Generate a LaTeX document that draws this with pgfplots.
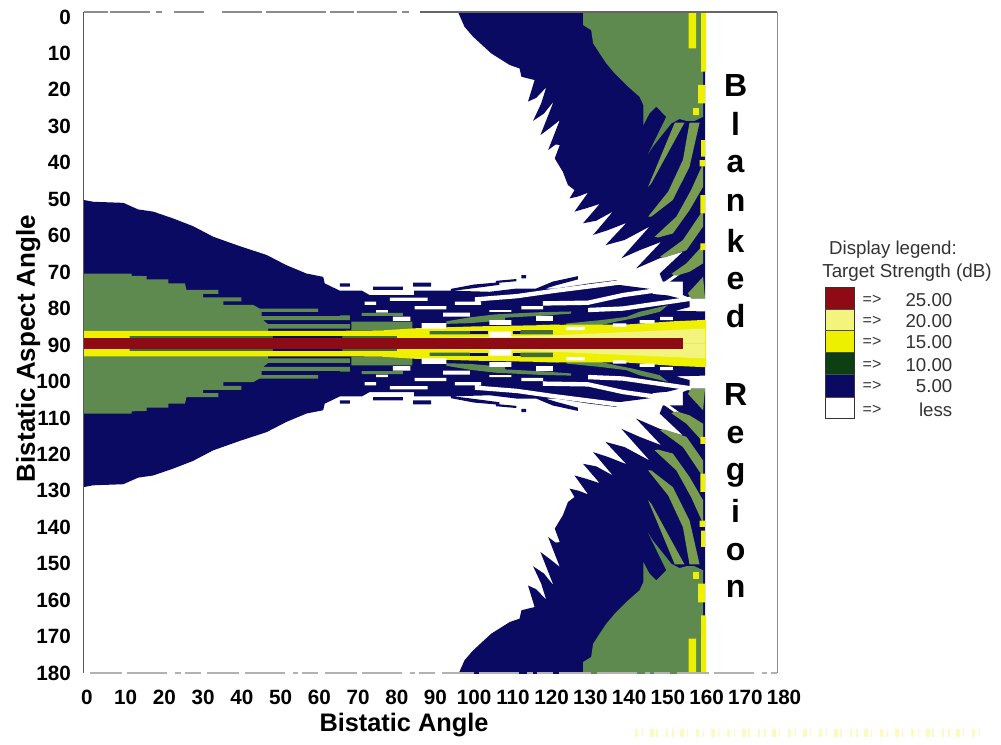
\documentclass[border=0pt]{standalone}
\usepackage{pgfplots}
\usepackage{pgfplotstable}
\usepackage{fontspec}
\setmainfont{Liberation Sans}
\pgfplotsset{compat=1.18}
\definecolor{navyc}{HTML}{0A0A62}
\definecolor{greena}{HTML}{5E8A50}
\definecolor{greenb}{HTML}{7A9C50}
\definecolor{darkg}{HTML}{3F6E3A}
\definecolor{legg}{HTML}{0C3F12}
\definecolor{yel}{HTML}{EEF000}
\definecolor{pale}{HTML}{F2F47E}
\definecolor{redc}{HTML}{8E0A14}

% upper half (aspect < 90) of each level; the lower half is its mirror image
\pgfplotstableread{
x y
-0.9 50.2
1.6 50.7
9.4 51
13.2 52.8
17.1 53.4
22.3 55.3
27.4 57.4
32.6 60.3
39.5 62.9
46.4 65.3
51.5 68.1
56.7 70.4
61 71.3
61.4 73.1
65.3 75.1
71 75.1
73 76.3
84.5 76.3
84.5 75.1
94 75.1
104 75.4
111 74.5
121.2 74.5
129.8 73.1
136.7 72.2
137.3 73.5
146.1 74.7
146.1 76
150 76.4
155.6 77.9
155.6 79.6
152 80.6
159.6 80.8
159.6 89.6
-0.9 89.6
nan nan
65.3 73.1
67.9 73.1
67.9 74
65.3 74
nan nan
73.9 74
81.6 74
81.6 74.9
73.9 74.9
nan nan
84.2 72.9
88.9 72.9
88.9 74
84.2 74
nan nan
94 74.6
100 73.4
106.5 72.8
106.5 73.5
100 74.4
94 75.2
nan nan
105.6 72.4
110.9 71.9
110.9 72.5
105.6 73
nan nan
112.2 70.8
113.4 70.8
113.4 71.7
112.2 71.7
nan nan
116 74.5
120.3 72.6
126.8 71.1
126.8 72
121.2 73.6
116.9 75
nan nan
95.8 -1.4
97.5 2.7
99.7 5.4
104.4 10
109.2 13.2
111.7 14.1
112.2 16.4
115.6 17.3
113.9 23.2
116 22.2
118.6 19.3
117.3 23.7
115.2 28.5
118 26.5
120.5 23.2
117.1 32.4
119.5 30.5
122.1 28.3
119.1 36.5
121 35
122.1 35.1
120.8 38.8
122.9 42.5
124.2 46.1
125.9 47.5
124.6 49.8
127 49.2
129.4 48.2
125.9 53.4
128.9 52.5
132.4 51.3
128.1 56.6
131.5 55.9
135.8 53.4
130.7 59.8
134.5 58.5
139.3 56.5
133.9 62.6
138.8 61.2
145.3 57.5
138 66.2
142.7 64
148.3 61.7
141.8 69
147.9 66.2
153.9 64.4
147.9 70.4
148.7 72.6
153.9 72.6
153.9 76.3
156 77.2
159.6 77.2
159.6 -1.4
}\navytop

\pgfplotstableread{
x y
100.2 76.9
111 76
120.3 74.6
137.6 72.2
138 73.4
120.3 75.8
111 77.2
100.2 78.1
nan nan
117.7 78
129.4 77.8
138.4 75.7
147 74.4
147 75.6
138.4 76.9
129.4 79
117.7 79.2
nan nan
129.4 79.8
138.4 79.4
156 76.7
156 77.9
138.4 80.6
129.4 81
nan nan
71.7 78.1
74.7 78.1
74.7 79
71.7 79
nan nan
78.2 77
88 77
88 77.9
78.2 77.9
nan nan
84.6 79.3
92.8 79.3
92.8 80.2
84.6 80.2
nan nan
95 78.1
101.8 78.1
101.8 79
95 79
nan nan
74.7 80.4
77.7 80.4
77.7 81.1
74.7 81.1
nan nan
92 81.1
98.9 81.1
98.9 82.2
92 82.2
nan nan
103.9 80.4
109.6 80.4
109.6 80.9
103.9 80.9
nan nan
112.2 79.3
117.8 79.3
117.8 80.2
112.2 80.2
nan nan
148.7 73
153.5 69.4
153.9 70
149.5 73.4
}\whitetop

\pgfplotstableread{
x y
-0.9 70.4
11.5 70.4
11.5 71
15.4 71.1
15.4 72
21 72
21 73.1
25.3 73.1
25.7 74.9
33.9 74.9
33.9 76
30 76
30 76.9
39.9 76.9
39.9 78
35.2 78
35.2 79
42.9 79
44.6 80
59.7 80
59.7 80.9
45.1 80.9
45.1 82.1
67.9 82.1
67.9 83.2
45.5 83.2
46.8 84.3
67.9 84.3
67.9 85.5
46.8 85.5
46.8 86.4
-0.9 86.4
nan nan
68.3 83.6
84 83.6
84 86
68.3 86
nan nan
70.9 81.2
81.6 81.2
81.6 82
70.9 82
nan nan
65.3 81.9
67.9 81.9
67.9 83
65.3 83
nan nan
123.8 84.1
132.4 83.2
139.3 82.3
142.7 80.9
150 79.1
147.9 80.9
141 82.7
136.7 83.6
130.7 85
123.8 85
nan nan
92.8 83.5
99 82.4
105.5 81.6
117 81
125 80.8
125 81.4
117 82
108 82.5
108 83.2
99 84
92.8 84.2
nan nan
116 84.5
122 84.3
122 85.2
116 85.6
nan nan
128.1 -1.4
128.1 2.2
130.2 3.6
130.7 7.2
132.4 10
134.1 12.7
136.3 15.5
139.3 18.7
142.7 21.9
143.7 24.2
143.7 29.6
145.3 26.4
147 24.6
149.6 27.4
144.9 37.6
146.1 35.6
150.9 29.2
153 28
154.8 28.5
156.9 28.5
159.1 27.4
159.1 -1.4
}\greentop

\pgfplotstableread{
x y
144.9 46.6
151.8 29
154.3 29
145.7 45.7
nan nan
144.9 54.8
150.1 47.9
153.9 39.2
155.6 29
158.2 29
155.6 41.1
151.3 50.2
145.7 54.8
nan nan
146.6 60.3
152.2 54.8
156 47.5
159.1 40.2
159.1 46.6
155.6 53
151.3 59.4
147.5 60.5
nan nan
148 65.8
153.9 61.2
159.1 53
159.1 57.5
154.8 64
149.2 66
nan nan
150.9 70.5
154.8 67.6
159.1 62.6
159.1 67.6
155.6 69.9
152.2 71
nan nan
155.2 75.8
159.1 71.3
159.6 77.2
156 77.2
}\greenstripes

\pgfplotstableread{
x y
155.4 -1.4
157.3 -1.4
157.3 8.6
155.4 8.6
nan nan
158.6 -1.4
159.9 -1.4
159.9 15
158.6 15
nan nan
157.8 18.6
159.6 18.6
159.6 23.7
157.8 23.7
nan nan
156.5 25
158 25
158 26.9
156.5 26.9
nan nan
158.6 33.8
159.6 33.8
159.6 38.3
158.6 38.3
nan nan
158.2 39.3
159.6 39.3
159.6 41
158.2 41
nan nan
158.4 48.9
159.6 48.9
159.6 53.9
158.4 53.9
nan nan
158.4 62.1
159.6 62.1
159.6 64
158.4 64
nan nan
-0.9 86.1
66 86.1
76 86
85 85.4
100 84.9
125.5 84.4
139 84.4
151.3 83.5
159.9 83.1
159.9 89.6
-0.9 89.6
}\yellowtop

\pgfplotstableread{
x y
90 88
102.3 87.8
121.2 87.3
159.6 85.5
159.6 89.6
90 89.6
}\paletop

\pgfplotstableread{
x y
11 87.6
48 87.6
48 88.3
11 88.3
nan nan
66 87.6
80 87.6
80 88.3
66 88.3
nan nan
88.5 86.2
98.8 86.2
98.8 87.1
88.5 87.1
nan nan
112 85.9
120.3 85.9
120.3 87.1
112 87.1
}\stripgreen

\pgfplotstableread{
x y
48 87.6
66 87.6
66 88.3
48 88.3
nan nan
98.8 86.2
103.5 86.2
103.5 87
98.8 87
nan nan
110 86.2
112 86.2
112 87
110 87
}\stripnavy

\pgfplotstableread{
x y
103.9 86.3
109.6 86.3
109.6 87.9
103.9 87.9
nan nan
86.4 84
92.8 84
92.8 85.5
86.4 85.5
nan nan
103.9 83.2
109.6 83.2
109.6 84.5
103.9 84.5
nan nan
116 82
120.3 82
120.3 83.4
116 83.4
nan nan
79 82.2
83.5 82.2
83.5 83.4
79 83.4
nan nan
123.8 85
128.5 85
128.5 85.9
123.8 85.9
nan nan
135.8 84.1
139.3 84.1
139.3 85
135.8 85
nan nan
142.7 83.2
146.6 83.2
146.6 84.1
142.7 84.1
nan nan
148 82.3
151.3 82.3
151.3 83.2
148 83.2
}\whitelast

\pgfplotstableread{
x y
-0.9 88.2
154 88.2
154 91
-0.9 91
}\redband

\newcommand\level[2]{%
  \addplot[fill=#1,draw=none,forget plot,unbounded coords=jump] table[x=x,y=y] {#2};
  \addplot[fill=#1,draw=none,forget plot,unbounded coords=jump] table[x=x,y expr=179.2-\thisrow{y}] {#2};
}
\newcommand\lfont{\bfseries\fontsize{24}{28}\selectfont}
\begin{document}
\begin{tikzpicture}
\begin{axis}[
  at={(62.625pt,54pt)},anchor=south west,
  scale only axis,width=525.375pt,height=495.75pt,
  xmin=-0.9,xmax=180,ymin=-1.37,ymax=180,y dir=reverse,
  xtick={0,10,...,180},ytick={0,10,...,180},
  axis line style={draw=none},major tick length=0pt,
  /pgf/number format/assume math mode=true,
  tick label style={font=\bfseries\fontsize{15.5}{18}\selectfont},
  xticklabel style={yshift=-9pt},
  yticklabel style={xshift=-6pt},
  xlabel={Bistatic Angle},ylabel={Bistatic Aspect Angle},
  xlabel style={font=\bfseries\fontsize{19}{22}\selectfont,at={(axis description cs:0.4575,-0.0787)},anchor=center},
  ylabel style={font=\bfseries\fontsize{19.5}{22}\selectfont,at={(axis description cs:-0.079,0.491)},anchor=center},
]
\level{navyc}{\navytop}
\level{white}{\whitetop}
\level{greena}{\greentop}
\level{greenb}{\greenstripes}
\level{yel}{\yellowtop}
\level{pale}{\paletop}
\level{darkg}{\stripgreen}
\level{navyc}{\stripnavy}
\level{white}{\whitelast}
\addplot[fill=redc,draw=none,forget plot] table[x=x,y=y] {\redband};
\foreach \ch/\yy in {B/21.95,l/32.4,a/42.8,n/53.5,k/64.5,e/74.9,d/85.3,R/106.5,e/116.9,g/127.3,i/138.6,o/149,n/159.4}{
  \edef\tmp{\noexpand\node[anchor=base,font=\noexpand\lfont] at (axis cs:167.5,\yy) {\ch};}\tmp
}
\end{axis}
\begin{scope}[x=0.75pt,y=-0.75pt,shift={(0pt,558.75pt)}]
  \draw[line width=1.1pt,draw=black!65] (83.5,12)--(83.5,673);
  \draw[line width=0.6pt,draw=black!45] (777,12)--(777,673);
  \draw[line width=0.8pt,draw=black!45,dash pattern=on 18pt off 2pt on 30pt off 4pt on 5pt off 9pt on 22pt off 14pt on 30pt off 3pt on 45pt off 3pt] (83.5,12)--(420,12);
  \draw[line width=0.8pt,draw=black!60] (420,12)--(777,12);
  \draw[line width=0.8pt,draw=black!30,dash pattern=on 24pt off 4pt on 30pt off 6pt on 4pt off 3pt on 12pt off 5pt] (90,673)--(777,673);
  % legend
  \foreach \c/\a/\b in {redc/287/309,pale/309/330,yel/330/352,legg/352/374,navyc/374/397,white/397/418}{
    \fill[\c] (825,\a) rectangle (854,\b);
  }
  \draw[line width=0.7pt,black!80] (825,287) rectangle (854,418);
  \foreach \yy in {309,330,352,374,397}{\draw[line width=0.5pt,black!70] (825,\yy)--(854,\yy);}
  \node[font=\fontsize{14}{16}\selectfont,text=black!80,anchor=center] at (893,250) {Display legend:};
  \node[font=\fontsize{14.1}{16}\selectfont,text=black!80,anchor=center] at (907,273) {Target Strength (dB)};
  \foreach \t/\yy in {25.00/300,20.00/321,15.00/342,10.00/365,5.00/386,less/410}{
    \node[font=\fontsize{14}{16}\selectfont,text=black!80,anchor=east] at (957,\yy) {\t};
    \node[font=\fontsize{12}{14}\selectfont,text=black!80,anchor=center] at (872,\yy) {=>};
  }
  % faint scan residue in the lower right corner
  \draw[line width=6pt,draw=yel!25,dash pattern=on 2pt off 3pt on 1pt off 5pt on 3pt off 2pt on 1pt off 6pt] (635,733)--(980,733);
  \pgfresetboundingbox
  \path (0,0) rectangle (1001,745);
\end{scope}
\end{tikzpicture}
\end{document}
